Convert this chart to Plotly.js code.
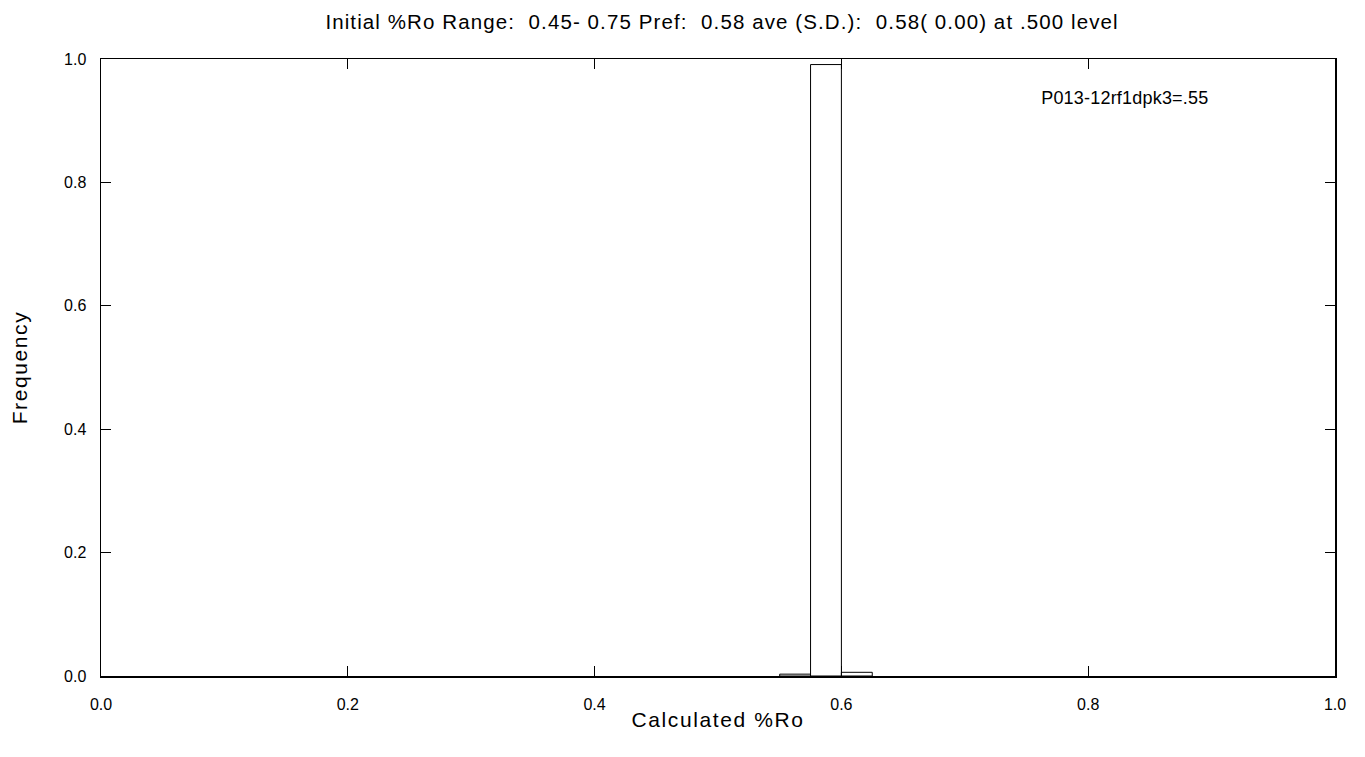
<!DOCTYPE html>
<html>
<head>
<meta charset="utf-8">
<script src="https://cdn.plot.ly/plotly-3.0.1.min.js"></script>
<style>
html,body{margin:0;padding:0;background:#fff;}
#chart{width:1365px;height:757px;}
#chart .gtitle{letter-spacing:1.1px;}
#chart .xtitle,#chart .ytitle{letter-spacing:1.6px;}
#chart .annotation-text{letter-spacing:0.2px;}
</style>
</head>
<body>
<div id="chart"></div>
<script>
const binCenters = [0.5625, 0.5875, 0.6125];
const frequencies = [0.003, 0.991, 0.006];
const binWidth = 0.025;
const titleText = "Initial %Ro Range:\u00a0 0.45- 0.75 Pref:\u00a0 0.58 ave (S.D.):\u00a0 0.58( 0.00) at .500 level";
const labelText = "P013-12rf1dpk3=.55";
const xTitle = "Calculated %Ro";
const yTitle = "Frequency";

const font = "Liberation Sans, Arial, sans-serif";
const trace = {
  type: 'bar',
  x: binCenters,
  y: frequencies,
  width: binCenters.map(() => binWidth),
  marker: {color: '#ffffff', line: {color: '#000000', width: 1}},
  hoverinfo: 'x+y'
};
const axisCommon = {
  range: [0, 1],
  dtick: 0.2,
  tick0: 0,
  tickformat: '.1f',
  ticks: 'inside',
  ticklen: 10,
  tickwidth: 1,
  tickcolor: '#000',
  showline: true,
  linecolor: '#000',
  linewidth: 1.5,
  mirror: 'ticks',
  showgrid: false,
  zeroline: false,
  tickfont: {family: font, size: 16, color: '#000'}
};
const layout = {
  width: 1365, height: 757,
  margin: {l: 101, r: 30, t: 59, b: 81},
  paper_bgcolor: '#fff', plot_bgcolor: '#fff',
  showlegend: false,
  bargap: 0,
  title: {text: titleText, font: {family: font, size: 20.5, color: '#000'}, x: 0.529, xanchor: 'center', y: 0.971, yanchor: 'middle'},
  xaxis: Object.assign({}, axisCommon, {ticklabelstandoff: 13, title: {text: xTitle, font: {family: font, size: 21, color: '#000'}, standoff: 0}}),
  yaxis: Object.assign({}, axisCommon, {ticklabelstandoff: 10, title: {text: yTitle, font: {family: font, size: 21, color: '#000'}, standoff: 30}}),
  annotations: [{
    text: labelText, xref: 'paper', yref: 'paper', x: 0.898, y: 0.936,
    xanchor: 'right', yanchor: 'middle', showarrow: false,
    font: {family: font, size: 18, color: '#000'}
  }]
};
Plotly.newPlot('chart', [trace], layout, {displayModeBar: false, staticPlot: true});
</script>
</body>
</html>
